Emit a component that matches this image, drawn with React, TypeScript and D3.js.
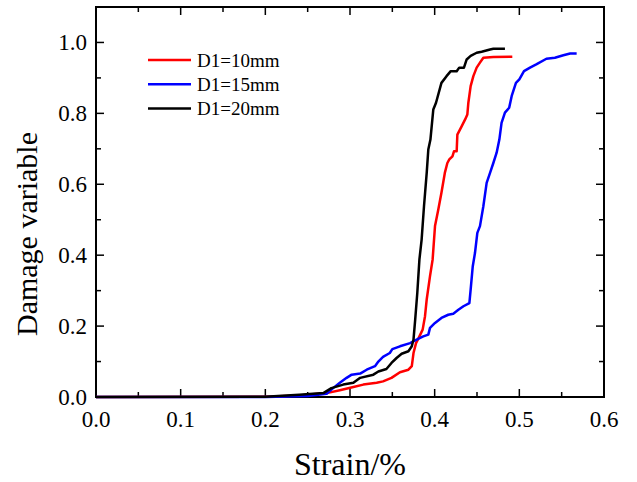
import React from "react";
import * as d3 from "d3";

const seriesNames = ["D1=10mm", "D1=15mm", "D1=20mm"];
const seriesColors = ["#ff0000", "#0000ff", "#000000"];

const red10: [number, number][] = [
  [0, 0], [0.2, 0.001], [0.24, 0.004], [0.2724, 0.011], [0.288, 0.019], [0.304, 0.028], [0.3157, 0.035],
  [0.3315, 0.04], [0.339, 0.044], [0.349, 0.054], [0.359, 0.07], [0.369, 0.077], [0.373, 0.087],
  [0.375, 0.124], [0.378, 0.152], [0.382, 0.171], [0.3858, 0.19], [0.3886, 0.228], [0.3906, 0.275],
  [0.3945, 0.341], [0.3976, 0.388], [0.4004, 0.482], [0.4043, 0.529], [0.408, 0.576], [0.412, 0.632],
  [0.415, 0.66], [0.4173, 0.67], [0.421, 0.679], [0.4228, 0.693], [0.426, 0.693], [0.4268, 0.74],
  [0.432, 0.764], [0.436, 0.783], [0.4386, 0.797], [0.4398, 0.83], [0.4425, 0.877], [0.4457, 0.905],
  [0.4496, 0.929], [0.4535, 0.943], [0.4575, 0.957], [0.4693, 0.959], [0.4917, 0.96],
];

const blue15: [number, number][] = [
  [0, 0], [0.2, 0.0], [0.25, 0.003], [0.2724, 0.009], [0.28, 0.025], [0.288, 0.04], [0.296, 0.054],
  [0.302, 0.063], [0.312, 0.066], [0.3197, 0.077], [0.3295, 0.087], [0.3335, 0.1], [0.339, 0.113],
  [0.347, 0.124], [0.35, 0.135], [0.359, 0.143], [0.371, 0.152], [0.3787, 0.162], [0.3866, 0.171],
  [0.3925, 0.176], [0.3945, 0.195], [0.4004, 0.209], [0.408, 0.223], [0.416, 0.232], [0.422, 0.235],
  [0.428, 0.246], [0.434, 0.256], [0.441, 0.265], [0.4425, 0.303], [0.445, 0.369], [0.4476, 0.406],
  [0.4504, 0.463], [0.4535, 0.482], [0.4575, 0.538], [0.4614, 0.604], [0.4654, 0.632], [0.4693, 0.66],
  [0.4732, 0.689], [0.4764, 0.726], [0.479, 0.773], [0.483, 0.802], [0.488, 0.816], [0.491, 0.849],
  [0.496, 0.886], [0.5, 0.896], [0.5055, 0.919], [0.5126, 0.929], [0.52, 0.938], [0.532, 0.954],
  [0.542, 0.957], [0.552, 0.964], [0.56, 0.969], [0.5677, 0.969],
];

const black20: [number, number][] = [
  [0, 0], [0.2, 0.001], [0.24, 0.006], [0.2685, 0.011], [0.278, 0.025], [0.292, 0.035], [0.304, 0.04],
  [0.312, 0.054], [0.3276, 0.063], [0.3335, 0.072], [0.343, 0.079], [0.349, 0.096], [0.355, 0.11],
  [0.361, 0.122], [0.369, 0.129], [0.373, 0.143], [0.375, 0.162], [0.377, 0.218], [0.3795, 0.294],
  [0.382, 0.388], [0.3846, 0.444], [0.3874, 0.538], [0.3906, 0.632], [0.3925, 0.698], [0.395, 0.726],
  [0.3984, 0.811], [0.4016, 0.83], [0.408, 0.886], [0.414, 0.905], [0.419, 0.919], [0.426, 0.919],
  [0.429, 0.929], [0.4346, 0.929], [0.4378, 0.952], [0.4425, 0.962], [0.4496, 0.971], [0.4555, 0.974],
  [0.4654, 0.98], [0.4693, 0.982], [0.483, 0.982],
];

const seriesData = [red10, blue15, black20];

const xMajorTicks = [0, 0.1, 0.2, 0.3, 0.4, 0.5, 0.6];
const xMinorTicks = [0.05, 0.15, 0.25, 0.35, 0.45, 0.55];
const yMajorTicks = [0, 0.2, 0.4, 0.6, 0.8, 1.0];
const yMinorTicks = [0.1, 0.3, 0.5, 0.7, 0.9];

const xTitle = "Strain/%";
const yTitle = "Damage variable";

export default function App() {
  const W = 637, H = 482;
  const L = 96, R = 604, T = 7, B = 397;
  const x = d3.scaleLinear().domain([0, 0.6]).range([L, R]);
  const y = d3.scaleLinear().domain([0, 1.1]).range([B, T]);
  const line = d3.line<[number, number]>().x((d) => x(d[0])).y((d) => y(d[1]));
  const font = "Liberation Serif";
  const maj = 8, min = 5;

  return (
    <svg width={W} height={H} style={{ position: "absolute", left: 0, top: 0, background: "#fff" }}>
      <rect x={0} y={0} width={W} height={H} fill="#fff" />
      <g stroke="#000" strokeWidth={1.5}>
        {xMajorTicks.map((t) => (
          <g key={"xm" + t}>
            <line x1={x(t)} x2={x(t)} y1={B} y2={B - maj} />
            <line x1={x(t)} x2={x(t)} y1={T} y2={T + maj} />
          </g>
        ))}
        {xMinorTicks.map((t) => (
          <g key={"xn" + t}>
            <line x1={x(t)} x2={x(t)} y1={B} y2={B - min} />
            <line x1={x(t)} x2={x(t)} y1={T} y2={T + min} />
          </g>
        ))}
        {yMajorTicks.map((t) => (
          <g key={"ym" + t}>
            <line x1={L} x2={L + maj} y1={y(t)} y2={y(t)} />
            <line x1={R} x2={R - maj} y1={y(t)} y2={y(t)} />
          </g>
        ))}
        {yMinorTicks.map((t) => (
          <g key={"yn" + t}>
            <line x1={L} x2={L + min} y1={y(t)} y2={y(t)} />
            <line x1={R} x2={R - min} y1={y(t)} y2={y(t)} />
          </g>
        ))}
      </g>
      <rect x={L} y={T} width={R - L} height={B - T} fill="none" stroke="#000" strokeWidth={2} />
      {seriesData.map((d, i) => (
        <path key={i} d={line(d) || ""} fill="none" stroke={seriesColors[i]} strokeWidth={2.5} strokeLinejoin="round" />
      ))}
      <g style={{ fontFamily: font }} fontSize={23} fill="#000">
        {xMajorTicks.map((t) => (
          <text key={"xl" + t} x={x(t)} y={426.5} textAnchor="middle">{d3.format(".1f")(t)}</text>
        ))}
        {yMajorTicks.map((t) => (
          <text key={"yl" + t} x={87} y={y(t)} dy="0.33em" textAnchor="end">{d3.format(".1f")(t)}</text>
        ))}
      </g>
      <text x={350} y={475} textAnchor="middle" style={{ fontFamily: font }} fontSize={32} fill="#000">{xTitle}</text>
      <text transform={`translate(37,234) rotate(-90)`} textAnchor="middle" style={{ fontFamily: font }} fontSize={30} fill="#000">{yTitle}</text>
      <g style={{ fontFamily: font }} fontSize={19} fill="#000">
        {seriesNames.map((n, i) => (
          <g key={n} transform={`translate(0, ${60 + i * 24.3})`}>
            <line x1={148} x2={191} y1={0} y2={0} stroke={seriesColors[i]} strokeWidth={2.5} />
            <text x={197} y={0} dy="0.35em">{n}</text>
          </g>
        ))}
      </g>
    </svg>
  );
}
